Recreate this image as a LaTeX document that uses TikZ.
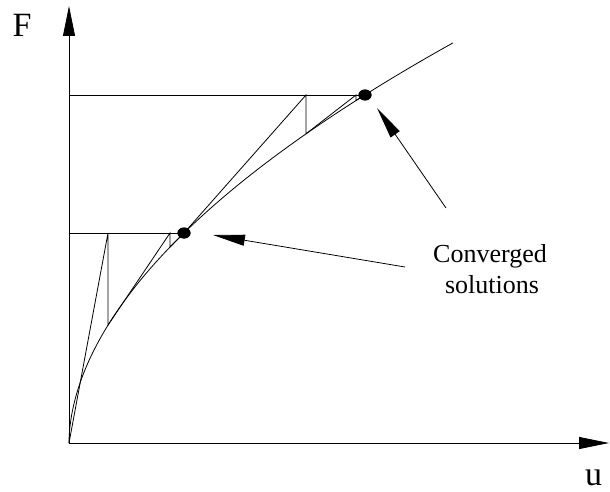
\documentclass[tikz,border=0pt]{standalone}
\usepackage{fontspec}
\setmainfont{Liberation Serif}
\usetikzlibrary{arrows.meta,shapes.geometric}
\begin{document}
\begin{tikzpicture}[x=1pt,y=1pt,
  ln/.style={line width=0.8pt,black},
  axis/.style={line width=0.8pt,-{Triangle[length=30pt,width=12pt]}},
  pointer/.style={line width=0.8pt,-{Triangle[length=32pt,width=11pt]}},
  sol/.style={ellipse,fill=black,minimum width=13pt,minimum height=11pt,inner sep=0pt},
  lbl/.style={font=\fontsize{26}{31}\selectfont,anchor=base,inner sep=0pt},
  axlbl/.style={font=\fontsize{34}{40}\selectfont,anchor=base,inner sep=0pt}]
\useasboundingbox (0,0) rectangle (610,491);
% key points
\coordinate (O) at (69,48);
\coordinate (ytop) at (69,485);
\coordinate (xend) at (609,48);
\coordinate (L1) at (69,258);
\coordinate (L2) at (69,396);
\coordinate (a1) at (108,258);
\coordinate (c1) at (108,165.9);
\coordinate (a2) at (170,258);
\coordinate (c2) at (170,244);
\coordinate (b1) at (306,396);
\coordinate (d1) at (306,357.2);
\coordinate (b2) at (356,396);
\coordinate (d2) at (356,390.5);
\node[sol] (s1) at (184,258) {};
\node[sol] (s2) at (365,396) {};
% axes
\draw[axis] (O) -- (ytop);
\draw[axis] (O) -- (xend);
\node[axlbl] (F) at (22,454) {F};
\node[axlbl] (u) at (593.5,6) {u};
% curve
\draw[ln] plot[domain=0:19.596,samples=200,variable=\t]
  ({69+\t*\t},{48+16.63*exp(1.069*ln(max(\t,0.0001)))});
% first load level
\draw[ln] (L1) -- (s1.center);
\draw[ln] (O) -- (a1) -- (c1) -- (a2) -- (c2) -- (s1.center);
% second load level
\draw[ln] (L2) -- (s2.center);
\draw[ln] (s1.center) -- (b1) -- (d1) -- (b2) -- (d2) -- (s2.center);
\node[sol] at (s1) {};
\node[sol] at (s2) {};
% labels and pointers
\node[lbl] (conv) at (490,229) {Converged};
\node[lbl] (solt) at (492,198) {solutions};
\coordinate (t1) at (446,283);
\coordinate (t2) at (405,224);
\draw[pointer] (t1) -- (377,383);
\draw[pointer] (t2) -- (213,256);
\end{tikzpicture}
\end{document}
